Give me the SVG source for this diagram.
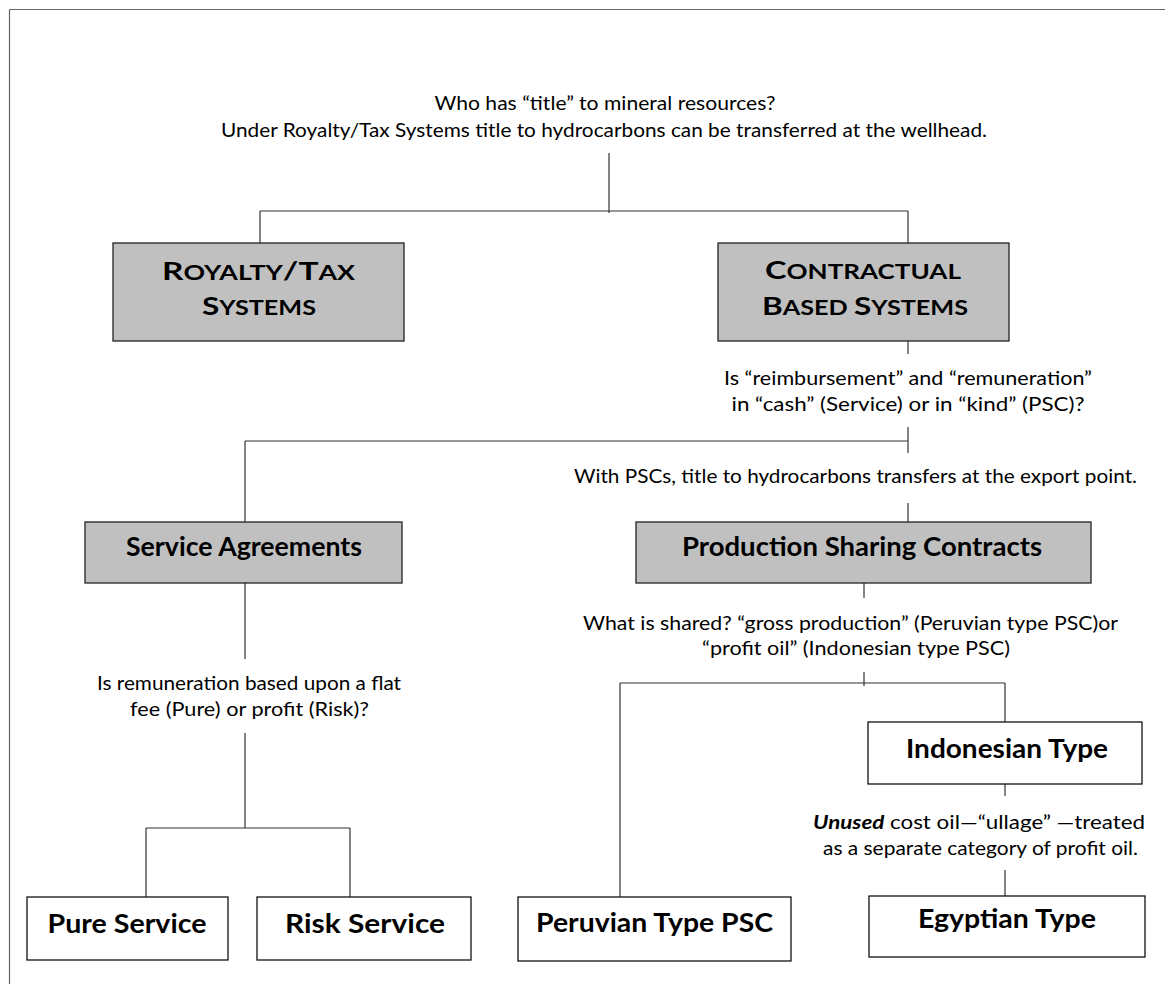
<svg xmlns="http://www.w3.org/2000/svg" width="1165" height="984" viewBox="0 0 1165 984">
<style>
.t{font-family:Lato,"Open Sans","Liberation Sans",sans-serif;font-size:19px;fill:#000;text-anchor:middle}
.b{font-family:Lato,"Open Sans","Liberation Sans",sans-serif;font-weight:bold;font-size:26px;fill:#000;text-anchor:middle}
.sc{font-family:Lato,"Open Sans","Liberation Sans",sans-serif;font-weight:bold;fill:#000;text-anchor:middle}
.g{fill:#c0c0c0;stroke:#222;stroke-width:1.3}
.w{fill:#fff;stroke:#111;stroke-width:1.3}
.c line{stroke:#333;stroke-width:1.2}
</style>
<rect width="1165" height="984" fill="#fff"/>
<g id="frame" stroke="#666" stroke-width="1.2">
<line x1="9.5" y1="9.5" x2="1165" y2="9.5"/>
<line x1="9.5" y1="9.5" x2="9.5" y2="984"/>
</g>
<g id="connectors" class="c">
<line x1="609" y1="153" x2="609" y2="213"/>
<line x1="260" y1="211" x2="908" y2="211"/>
<line x1="260" y1="211" x2="260" y2="243"/>
<line x1="908" y1="211" x2="908" y2="243"/>
<line x1="908" y1="341" x2="908" y2="354"/>
<line x1="908" y1="427" x2="908" y2="453"/>
<line x1="245" y1="441" x2="908" y2="441"/>
<line x1="245" y1="441" x2="245" y2="522"/>
<line x1="908" y1="503" x2="908" y2="522"/>
<line x1="245" y1="583" x2="245" y2="659"/>
<line x1="245" y1="733" x2="245" y2="828"/>
<line x1="146" y1="828" x2="350" y2="828"/>
<line x1="146" y1="828" x2="146" y2="897"/>
<line x1="350" y1="828" x2="350" y2="897"/>
<line x1="864" y1="583" x2="864" y2="598"/>
<line x1="864" y1="672" x2="864" y2="686"/>
<line x1="620" y1="683" x2="1005" y2="683"/>
<line x1="620" y1="683" x2="620" y2="897"/>
<line x1="1005" y1="683" x2="1005" y2="722"/>
<line x1="1005" y1="784" x2="1005" y2="796"/>
<line x1="1005" y1="870" x2="1005" y2="896"/>
</g>
<g id="q1">
<text class="t" x="605" y="110" textLength="341" lengthAdjust="spacingAndGlyphs">Who has “title” to mineral resources?</text>
<text class="t" x="604" y="137" textLength="766" lengthAdjust="spacingAndGlyphs">Under Royalty/Tax Systems title to hydrocarbons can be transferred at the wellhead.</text>
</g>
<g id="royalty">
<rect class="g" x="113" y="243" width="291" height="98"/>
<text class="sc" x="258.5" y="280" textLength="193" lengthAdjust="spacingAndGlyphs"><tspan font-size="25">R</tspan><tspan font-size="20">OYALTY</tspan><tspan font-size="25">/T</tspan><tspan font-size="20">AX</tspan></text>
<text class="sc" x="259" y="315" textLength="114" lengthAdjust="spacingAndGlyphs"><tspan font-size="25">S</tspan><tspan font-size="20">YSTEMS</tspan></text>
</g>
<g id="contractual">
<rect class="g" x="718" y="243" width="291" height="98"/>
<text class="sc" x="863" y="279" textLength="196" lengthAdjust="spacingAndGlyphs"><tspan font-size="25">C</tspan><tspan font-size="20">ONTRACTUAL</tspan></text>
<text class="sc" x="865" y="315" textLength="206" lengthAdjust="spacingAndGlyphs"><tspan font-size="25">B</tspan><tspan font-size="20">ASED </tspan><tspan font-size="25">S</tspan><tspan font-size="20">YSTEMS</tspan></text>
</g>
<g id="q2">
<text class="t" x="908" y="385" textLength="368" lengthAdjust="spacingAndGlyphs">Is “reimbursement” and “remuneration”</text>
<text class="t" x="908" y="411" textLength="353" lengthAdjust="spacingAndGlyphs">in “cash” (Service) or in “kind” (PSC)?</text>
</g>
<g id="q3">
<text class="t" x="855.5" y="483" textLength="563" lengthAdjust="spacingAndGlyphs">With PSCs, title to hydrocarbons transfers at the export point.</text>
</g>
<g id="service">
<rect class="g" x="85" y="522" width="317" height="61"/>
<text class="b" x="244" y="556" textLength="236" lengthAdjust="spacingAndGlyphs">Service Agreements</text>
</g>
<g id="psc">
<rect class="g" x="636" y="522" width="455" height="61"/>
<text class="b" x="862" y="556" textLength="360" lengthAdjust="spacingAndGlyphs">Production Sharing Contracts</text>
</g>
<g id="q4">
<text class="t" x="850.5" y="630" textLength="535" lengthAdjust="spacingAndGlyphs">What is shared? “gross production”  (Peruvian type PSC)or</text>
<text class="t" x="856" y="655" textLength="308" lengthAdjust="spacingAndGlyphs">“profit oil” (Indonesian type PSC)</text>
</g>
<g id="q5">
<text class="t" x="249" y="690" textLength="304" lengthAdjust="spacingAndGlyphs">Is remuneration based upon a flat</text>
<text class="t" x="249.5" y="716" textLength="239" lengthAdjust="spacingAndGlyphs">fee (Pure) or profit (Risk)?</text>
</g>
<g id="indonesian">
<rect class="w" x="868" y="722" width="274" height="62"/>
<text class="b" x="1007" y="758" textLength="202" lengthAdjust="spacingAndGlyphs">Indonesian Type</text>
</g>
<g id="q6">
<text class="t" x="979" y="829" textLength="332" lengthAdjust="spacingAndGlyphs"><tspan font-weight="bold" font-style="italic">Unused</tspan> cost oil—“ullage” —treated</text>
<text class="t" x="980.5" y="855" textLength="315" lengthAdjust="spacingAndGlyphs">as a separate category of profit oil.</text>
</g>
<g id="pure">
<rect class="w" x="27" y="897" width="201" height="63"/>
<text class="b" x="127" y="933" textLength="159" lengthAdjust="spacingAndGlyphs">Pure Service</text>
</g>
<g id="risk">
<rect class="w" x="257" y="897" width="214" height="63"/>
<text class="b" x="365" y="933" textLength="160" lengthAdjust="spacingAndGlyphs">Risk Service</text>
</g>
<g id="peruvian">
<rect class="w" x="518" y="897" width="273" height="64"/>
<text class="b" x="654.5" y="932" textLength="237" lengthAdjust="spacingAndGlyphs">Peruvian Type PSC</text>
</g>
<g id="egyptian">
<rect class="w" x="869" y="896" width="276" height="61"/>
<text class="b" x="1007" y="928" textLength="178" lengthAdjust="spacingAndGlyphs">Egyptian Type</text>
</g>
</svg>
